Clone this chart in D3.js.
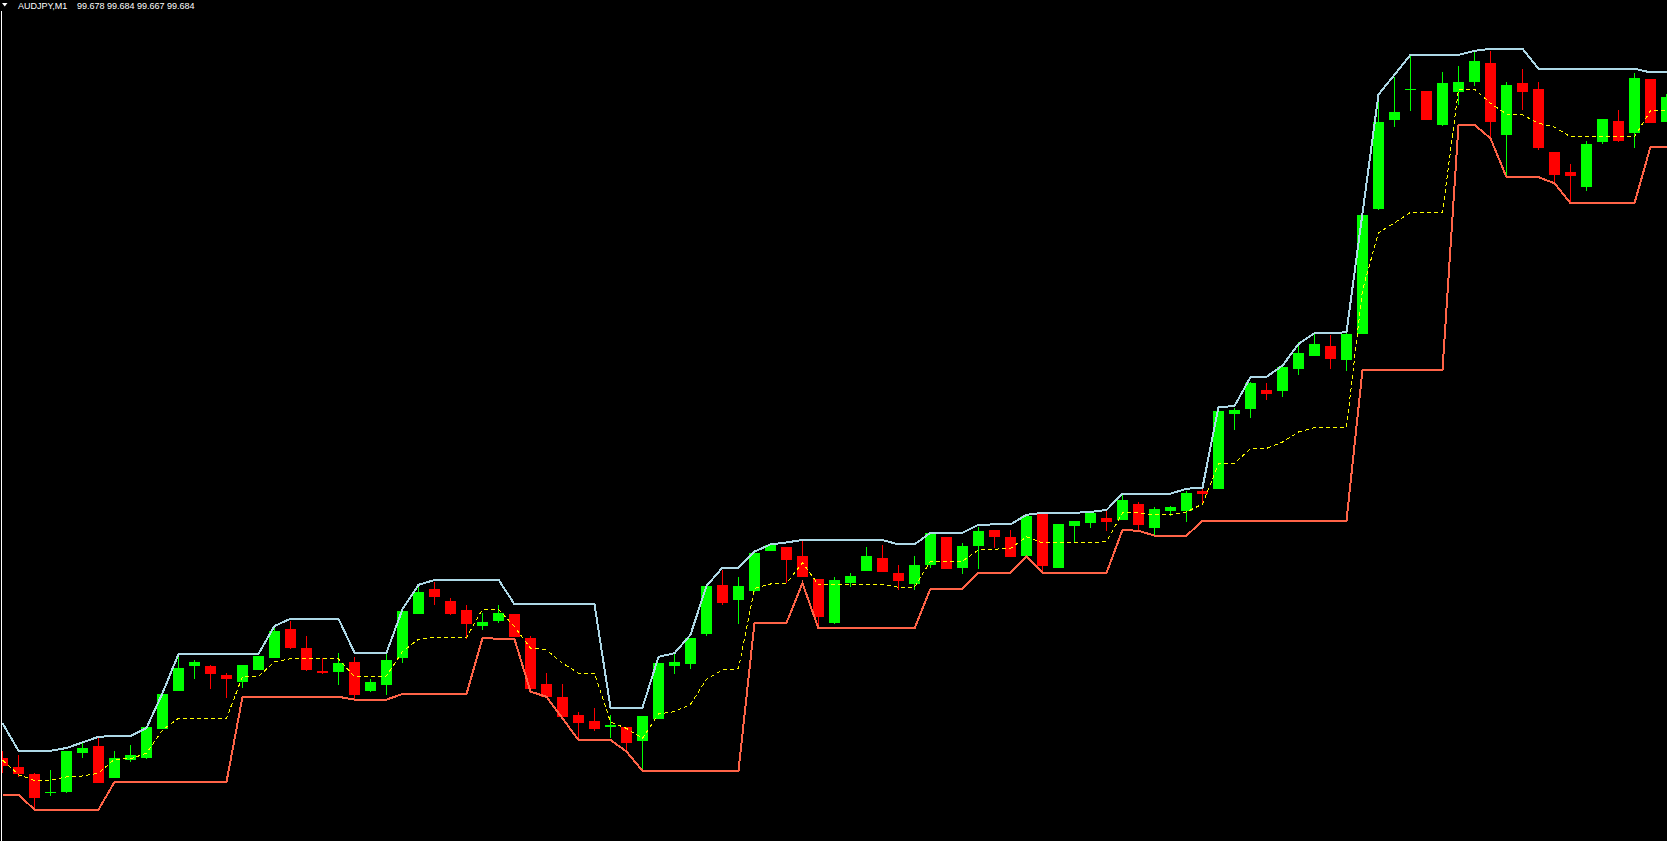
<!DOCTYPE html>
<html><head><meta charset="utf-8">
<script src="https://cdn.jsdelivr.net/npm/d3@7"></script>
<style>html,body{margin:0;padding:0;background:#000;overflow:hidden}</style>
</head><body><svg id="c" width="1667" height="841"></svg>
<script>
const symbol = "AUDJPY,M1";
// quote line shown in the header: open, high, low, close of the current bar
const quote = [99.678, 99.684, 99.667, 99.684];

const open = [
99.5188,99.5165,99.5147,99.5100,99.5102,99.5200,99.5217,99.5137,99.5182,99.5187,
99.5260,99.5355,99.5417,99.5417,99.5395,99.5377,99.5407,99.5437,99.5510,99.5462,
99.5405,99.5402,99.5427,99.5355,99.5370,99.5437,99.5547,99.5610,99.5580,99.5557,
99.5517,99.5530,99.5547,99.5487,99.5372,99.5340,99.5295,99.5280,99.5265,99.5265,
99.5230,99.5285,99.5417,99.5422,99.5497,99.5620,99.5582,99.5605,99.5705,99.5715,
99.5692,99.5635,99.5525,99.5625,99.5655,99.5687,99.5650,99.5622,99.5670,99.5740,
99.5662,99.5717,99.5757,99.5740,99.5692,99.5797,99.5662,99.5767,99.5775,99.5787,
99.5782,99.5822,99.5762,99.5805,99.5805,99.5855,99.5860,99.6048,99.6060,99.6108,
99.6105,99.6160,99.6193,99.6217,99.6183,99.6247,99.6560,99.6782,99.6857,99.6855,
99.6770,99.6852,99.6877,99.6925,99.6745,99.6875,99.6860,99.6702,99.6652,99.6615,
99.6727,99.6780,99.6750,99.6885,99.6777];

const high = [
99.5205,99.5195,99.5150,99.5157,99.5205,99.5224,99.5239,99.5205,99.5220,99.5265,
99.5347,99.5446,99.5432,99.5420,99.5400,99.5420,99.5442,99.5515,99.5530,99.5492,
99.5437,99.5450,99.5440,99.5385,99.5450,99.5555,99.5615,99.5627,99.5587,99.5570,
99.5550,99.5570,99.5547,99.5492,99.5400,99.5372,99.5302,99.5312,99.5295,99.5265,
99.5292,99.5425,99.5447,99.5487,99.5617,99.5657,99.5640,99.5700,99.5719,99.5715,
99.5730,99.5635,99.5640,99.5650,99.5715,99.5720,99.5670,99.5692,99.5750,99.5740,
99.5725,99.5765,99.5757,99.5757,99.5792,99.5797,99.5772,99.5780,99.5800,99.5805,
99.5845,99.5827,99.5815,99.5817,99.5855,99.5860,99.6055,99.6062,99.6127,99.6125,
99.6167,99.6227,99.6247,99.6245,99.6250,99.6545,99.6827,99.6889,99.6942,99.6855,
99.6902,99.6917,99.6952,99.6955,99.6877,99.6910,99.6877,99.6702,99.6672,99.6730,
99.6785,99.6807,99.6900,99.6885,99.6848];

const low = [
99.5150,99.5140,99.5057,99.5093,99.5100,99.5188,99.5125,99.5137,99.5177,99.5185,
99.5260,99.5355,99.5385,99.5360,99.5337,99.5362,99.5407,99.5437,99.5460,99.5405,
99.5397,99.5370,99.5335,99.5352,99.5345,99.5425,99.5547,99.5570,99.5545,99.5485,
99.5507,99.5525,99.5490,99.5360,99.5340,99.5290,99.5235,99.5255,99.5237,99.5207,
99.5155,99.5285,99.5397,99.5410,99.5492,99.5570,99.5522,99.5602,99.5705,99.5625,
99.5640,99.5512,99.5522,99.5615,99.5655,99.5652,99.5607,99.5607,99.5662,99.5660,
99.5647,99.5660,99.5712,99.5690,99.5692,99.5652,99.5662,99.5725,99.5762,99.5755,
99.5782,99.5757,99.5745,99.5792,99.5777,99.5822,99.5860,99.6008,99.6038,99.6083,
99.6090,99.6145,99.6193,99.6160,99.6155,99.6247,99.6557,99.6765,99.6805,99.6782,
99.6767,99.6820,99.6867,99.6735,99.6640,99.6807,99.6707,99.6622,99.6572,99.6605,
99.6722,99.6727,99.6712,99.6775,99.6777];

const close = [
99.5168,99.5148,99.5087,99.5102,99.5205,99.5212,99.5125,99.5187,99.5195,99.5265,
99.5347,99.5412,99.5427,99.5397,99.5385,99.5420,99.5442,99.5505,99.5462,99.5407,
99.5400,99.5425,99.5345,99.5377,99.5432,99.5555,99.5602,99.5590,99.5547,99.5522,
99.5527,99.5550,99.5490,99.5360,99.5340,99.5290,99.5275,99.5260,99.5270,99.5225,
99.5292,99.5425,99.5427,99.5487,99.5617,99.5575,99.5617,99.5700,99.5719,99.5682,
99.5640,99.5540,99.5632,99.5642,99.5692,99.5652,99.5630,99.5670,99.5750,99.5660,
99.5717,99.5755,99.5740,99.5690,99.5792,99.5667,99.5772,99.5780,99.5800,99.5777,
99.5832,99.5770,99.5810,99.5815,99.5850,99.5847,99.6055,99.6058,99.6125,99.6098,
99.6165,99.6200,99.6222,99.6185,99.6247,99.6545,99.6777,99.6802,99.6860,99.6782,
99.6875,99.6877,99.6930,99.6777,99.6870,99.6852,99.6712,99.6645,99.6642,99.6722,
99.6785,99.6730,99.6887,99.6775,99.6840];

const upperBand = [
99.5274,99.5205,99.5205,99.5205,99.5212,99.5226,99.5240,99.5242,99.5242,99.5262,
99.5349,99.5447,99.5447,99.5447,99.5447,99.5447,99.5447,99.5517,99.5535,99.5535,
99.5535,99.5535,99.5450,99.5450,99.5450,99.5559,99.5620,99.5632,99.5633,99.5633,
99.5633,99.5633,99.5571,99.5571,99.5571,99.5571,99.5571,99.5571,99.5313,99.5313,
99.5313,99.5440,99.5449,99.5495,99.5617,99.5663,99.5663,99.5703,99.5721,99.5726,
99.5732,99.5732,99.5732,99.5732,99.5732,99.5732,99.5721,99.5721,99.5750,99.5750,
99.5750,99.5770,99.5771,99.5771,99.5795,99.5800,99.5800,99.5800,99.5802,99.5807,
99.5848,99.5848,99.5848,99.5848,99.5860,99.5863,99.6064,99.6067,99.6139,99.6140,
99.6168,99.6222,99.6249,99.6250,99.6251,99.6549,99.6846,99.6895,99.6945,99.6945,
99.6945,99.6945,99.6955,99.6960,99.6960,99.6960,99.6910,99.6910,99.6910,99.6910,
99.6910,99.6910,99.6910,99.6901,99.6901];

const lowerBand = [
99.5095,99.5095,99.5058,99.5058,99.5058,99.5058,99.5058,99.5127,99.5127,99.5127,
99.5127,99.5127,99.5127,99.5127,99.5127,99.5340,99.5340,99.5340,99.5340,99.5340,
99.5340,99.5340,99.5333,99.5333,99.5333,99.5347,99.5347,99.5347,99.5347,99.5347,
99.5487,99.5485,99.5484,99.5353,99.5340,99.5286,99.5232,99.5232,99.5232,99.5203,
99.5155,99.5155,99.5155,99.5155,99.5155,99.5155,99.5155,99.5525,99.5525,99.5525,
99.5624,99.5511,99.5511,99.5511,99.5511,99.5511,99.5511,99.5511,99.5610,99.5610,
99.5610,99.5650,99.5650,99.5650,99.5691,99.5650,99.5650,99.5650,99.5650,99.5650,
99.5757,99.5755,99.5743,99.5743,99.5743,99.5780,99.5780,99.5780,99.5780,99.5780,
99.5780,99.5780,99.5780,99.5780,99.5780,99.6157,99.6157,99.6157,99.6157,99.6157,
99.6157,99.6770,99.6770,99.6736,99.6639,99.6639,99.6639,99.6624,99.6574,99.6574,
99.6574,99.6574,99.6574,99.6715,99.6715];

const middleBand = [
99.5182,99.5145,99.5131,99.5131,99.5140,99.5142,99.5149,99.5184,99.5185,99.5199,
99.5257,99.5286,99.5286,99.5286,99.5286,99.5391,99.5391,99.5428,99.5435,99.5435,
99.5435,99.5435,99.5390,99.5390,99.5392,99.5453,99.5484,99.5488,99.5488,99.5488,
99.5559,99.5559,99.5515,99.5462,99.5457,99.5424,99.5399,99.5399,99.5277,99.5261,
99.5236,99.5297,99.5303,99.5321,99.5384,99.5407,99.5410,99.5611,99.5622,99.5624,
99.5675,99.5620,99.5620,99.5620,99.5620,99.5620,99.5614,99.5614,99.5679,99.5679,
99.5679,99.5707,99.5709,99.5711,99.5740,99.5725,99.5725,99.5725,99.5725,99.5728,
99.5800,99.5800,99.5795,99.5795,99.5802,99.5822,99.5922,99.5924,99.5960,99.5961,
99.5977,99.6002,99.6013,99.6014,99.6014,99.6357,99.6500,99.6525,99.6551,99.6551,
99.6551,99.6859,99.6859,99.6824,99.6797,99.6795,99.6774,99.6764,99.6740,99.6740,
99.6740,99.6740,99.6740,99.6805,99.6805];

const W = 1667, H = 841;
const n = open.length;
const svg = d3.select("#c");
svg.append("rect").attr("width", W).attr("height", H).attr("fill", "#000");

const barStep = 16, bodyW = 11;
const x = d3.scaleLinear().domain([0, n - 1]).range([2.5, 2.5 + barStep * (n - 1)]);
const pxPerPrice = 4000;
const topPrice = 99.7082;
const y = d3.scaleLinear().domain([topPrice - H / pxPerPrice, topPrice]).range([H, 0]);

svg.append("defs").append("clipPath").attr("id", "plot")
  .append("rect").attr("x", 2).attr("y", 0).attr("width", W - 2).attr("height", H);

const g = svg.append("g").attr("clip-path", "url(#plot)");
const bars = d3.range(n).map(i => ({i, o: open[i], h: high[i], l: low[i], c: close[i]}));
const col = d => d.c >= d.o ? "#00FF00" : "#FF0000";

g.append("g").selectAll("rect").data(bars).join("rect")
  .attr("x", d => x(d.i) - 0.5).attr("width", 1)
  .attr("y", d => y(d.h)).attr("height", d => Math.max(1, y(d.l) - y(d.h)))
  .attr("fill", col).attr("shape-rendering", "crispEdges");

g.append("g").selectAll("rect").data(bars).join("rect")
  .attr("x", d => x(d.i) - bodyW / 2).attr("width", bodyW)
  .attr("y", d => y(Math.max(d.o, d.c)))
  .attr("height", d => Math.max(1, Math.abs(y(d.o) - y(d.c))))
  .attr("fill", col).attr("shape-rendering", "crispEdges");

const line = d3.line().x((d, i) => x(i)).y(d => y(d));
g.append("path").datum(middleBand).attr("d", line).attr("fill", "none")
  .attr("stroke", "#FFFF00").attr("stroke-width", 1).attr("stroke-dasharray", "4,3")
  .attr("shape-rendering", "crispEdges");
g.append("path").datum(upperBand).attr("d", line).attr("fill", "none")
  .attr("stroke", "#ADD8E6").attr("stroke-width", 2).attr("shape-rendering", "crispEdges");
g.append("path").datum(lowerBand).attr("d", line).attr("fill", "none")
  .attr("stroke", "#FF6347").attr("stroke-width", 2).attr("shape-rendering", "crispEdges");

// left border
svg.append("rect").attr("x", 1).attr("y", 11).attr("width", 1).attr("height", H - 11)
  .attr("fill", "#FFFFFF").attr("shape-rendering", "crispEdges");

// header
svg.append("path").attr("d", "M2,3 H7.5 L4.75,6.5 Z").attr("fill", "#FFFFFF");
const f3 = d3.format(".3f");
svg.append("text").attr("x", 18).attr("y", 9)
  .attr("font-family", "'Liberation Sans', Arial, sans-serif").attr("font-size", 9)
  .attr("fill", "#FFFFFF").text(symbol);
svg.append("text").attr("x", 77).attr("y", 9)
  .attr("font-family", "'Liberation Sans', Arial, sans-serif").attr("font-size", 9)
  .attr("fill", "#FFFFFF")
  .text(quote.map(f3).join(" "));
</script>
</body></html>
